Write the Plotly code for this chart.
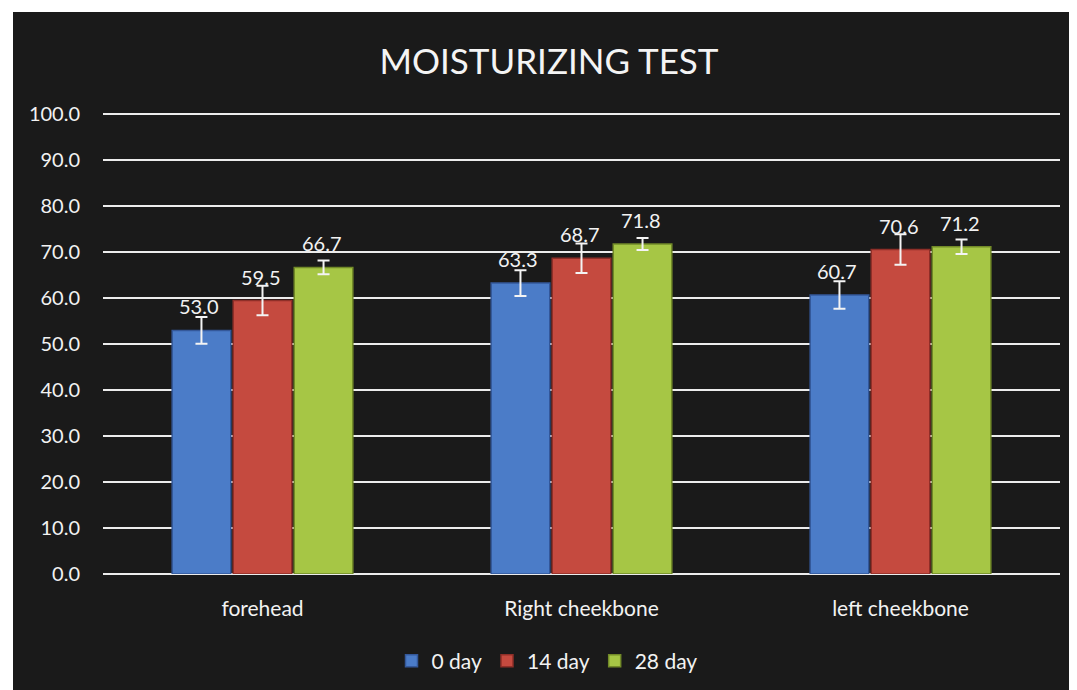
import plotly.graph_objects as go

categories = ["forehead", "Right cheekbone", "left cheekbone"]
series_names = ["0 day", "14 day", "28 day"]
values_0 = [53.0, 63.3, 60.7]
values_14 = [59.5, 68.7, 70.6]
values_28 = [66.7, 71.8, 71.2]
err_0 = [2.9, 2.8, 3.0]
err_14 = [3.2, 3.2, 3.3]
err_28 = [1.5, 1.3, 1.6]
y_ticks = [0, 10, 20, 30, 40, 50, 60, 70, 80, 90, 100]

colors = ["#4b7cc8", "#c54a3f", "#a6c645"]
edge = ["#34589a", "#8f2f28", "#728a28"]

FONT = "Lato, 'Open Sans', sans-serif"
TXT = "#f2f2f2"

OFF = 8  # the page's default body margin
L, T = 103 - OFF, 113 - OFF
PW, PH = 957, 461
R = 1077 - L - PW
B = 690 - T - PH
BARGAP = 0.426
GROUPGAP = 0.04

fig = go.Figure()
for name, vals, errs, c, e in zip(series_names, [values_0, values_14, values_28],
                                  [err_0, err_14, err_28], colors, edge):
    fig.add_trace(go.Bar(
        name=name, x=categories, y=vals,
        marker=dict(color=c, line=dict(color=e, width=1.5)),
        error_y=dict(type="data", array=errs, visible=True, color="#f4f4f4",
                     thickness=2, width=6),
    ))

# value labels above bars
cat_px = PW / len(categories)
slot = cat_px * (1 - BARGAP) / len(series_names)
for i, vals in enumerate([values_0, values_14, values_28]):
    for cat, v in zip(categories, vals):
        fig.add_annotation(x=cat, y=v, xref="x", yref="y", text=f"{v:.1f}",
                           showarrow=False, xanchor="center", yanchor="middle",
                           xshift=(i - 1) * slot - 2, yshift=24,
                           font=dict(color=TXT, size=20, family=FONT))

fig.update_layout(
    width=1077, height=690,
    paper_bgcolor="#1a1a1a", plot_bgcolor="rgba(0,0,0,0)",
    margin=dict(l=L, r=R, t=T, b=B, autoexpand=False),
    barmode="group", bargap=BARGAP, bargroupgap=GROUPGAP,
    title=dict(text="MOISTURIZING TEST", x=(549 - OFF) / 1077, xanchor="center",
               y=1 - (62 - OFF) / 690, yanchor="middle",
               font=dict(color="#f4f4f4", size=35, family=FONT)),
    font=dict(color=TXT, family=FONT),
    showlegend=True,
    legend=dict(orientation="h", x=(547 - OFF - L) / PW, xanchor="center",
                y=-(661 - OFF - (T + PH)) / PH, yanchor="middle",
                font=dict(size=21, color=TXT, family=FONT),
                bgcolor="rgba(0,0,0,0)", itemwidth=30),
    xaxis=dict(showgrid=False, showline=False, ticks="", ticklabelstandoff=20,
               tickfont=dict(size=21, color=TXT, family=FONT)),
    yaxis=dict(range=[0, 100.3], tickvals=y_ticks,
               ticktext=[f"{v:.1f}" for v in y_ticks],
               showgrid=True, gridcolor="#ececec", gridwidth=2,
               zeroline=True, zerolinecolor="#ececec", zerolinewidth=2,
               showline=False, ticks="", ticklabelstandoff=22,
               tickfont=dict(size=20, color=TXT, family=FONT)),
)

# white scan margins at top and left (beyond the page's own margin)
fig.add_shape(type="rect", xref="paper", yref="paper",
              x0=-0.3, x1=1.2, y0=(T + PH - (12 - OFF)) / PH, y1=1.5,
              fillcolor="white", line=dict(width=0), layer="above")
fig.add_shape(type="rect", xref="paper", yref="paper",
              x0=-0.3, x1=-(L - (13 - OFF)) / PW, y0=-0.5, y1=1.5,
              fillcolor="white", line=dict(width=0), layer="above")

fig.write_html("out.html", config={"displayModeBar": False})
